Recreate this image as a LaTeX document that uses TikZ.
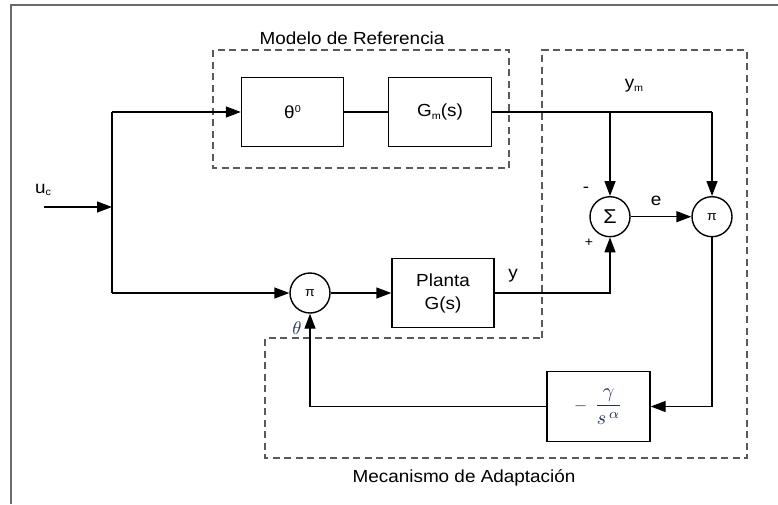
\documentclass[tikz,border=0pt]{standalone}
\usepackage{fontspec}
\setmainfont{Liberation Sans}[FakeStretch=1.08]
\usetikzlibrary{arrows.meta}
\definecolor{dashgray}{HTML}{5A5A5A}
\definecolor{framegray}{HTML}{6A6A6A}
\definecolor{mathnavy}{HTML}{233256}
\newcommand{\lbl}{\fontsize{17.5}{24}\selectfont}
\newcommand{\subs}[1]{\raisebox{-2.5pt}{\fontsize{10}{10}\selectfont #1}}
\tikzset{
  blk/.style={draw=black, line width=1.4pt, rectangle, inner sep=0pt, fill=white},
  sumc/.style={draw=black, line width=1.4pt, circle, minimum size=40pt, inner sep=0pt, fill=white},
  wire/.style={line width=1.4pt, draw=black},
  arr/.style={wire, -{Triangle[length=15pt,width=11pt]}},
  region/.style={draw=dashgray, line width=1.2pt, dash pattern=on 7pt off 4.5pt},
  txt/.style={inner sep=0pt, font=\lbl}
}
\begin{document}
\begin{tikzpicture}[x=1pt,y=-1pt]
\useasboundingbox (0,0) rectangle (778,504);
% frame
\draw[framegray, line width=1.5pt] (11,504) -- (11,5) -- (778,5);
% dashed regions
\draw[region] (213,50) rectangle (509,168);
\draw[region] (542,338) -- (542,50) -- (747,50) -- (747,458) -- (265,458) -- (265,338) -- cycle;
\node[txt] (tRef) at (352,38) {Modelo de Referencia};
\node[txt] (tAd) at (464,478) {Mecanismo de Adaptación};
% blocks
\node[blk, font=\lbl, minimum width=102pt, minimum height=69pt] (theta) at (292.5,112) {θ\raisebox{6pt}{\fontsize{10}{10}\selectfont 0}};
\node[blk, font=\lbl, minimum width=103pt, minimum height=69pt] (gm) at (440,112) {G\subs{m}(s)};
\node[blk, font=\lbl, minimum width=102pt, minimum height=69pt, align=center] (planta) at (443,293) {Planta\\[-1pt]G(s)};
\node[blk, minimum width=103pt, minimum height=70pt, text=mathnavy] (gam) at (598.5,406.5) {\raisebox{0.5pt}{\scalebox{1.7}{$-$}}\hspace{7pt}\scalebox{2.0}{$\displaystyle\frac{\,\gamma\,}{s^{\,\alpha}}$}};
\node[sumc, font=\fontsize{20}{20}\selectfont] (sum) at (610,216.7) {Σ};
\node[sumc, font=\fontsize{13}{13}\selectfont] (pi2) at (712,216.7) {π};
\node[sumc, font=\fontsize{13}{13}\selectfont] (pi1) at (310,293) {π};
% coordinates
\coordinate (in) at (44,207);
\coordinate (jin) at (112,207);
\coordinate (jtop) at (112,112);
\coordinate (jbot) at (112,293);
\coordinate (bym) at (610,112);
\coordinate (cym) at (712,112);
% wires
\draw[arr] (in) -- (jin);
\draw[wire] (jtop) -- (jbot);
\draw[arr] (jtop) -- (theta.west);
\draw[arr] (jbot) -- (pi1.west);
\draw[wire] (theta.east) -- (gm.west);
\draw[wire] (gm.east) -- (cym);
\draw[arr] (bym) -- (sum.north);
\draw[arr] (cym) -- (pi2.north);
\draw[arr] (sum.east) -- (pi2.west);
\draw[arr] (pi1.east) -- (planta.west);
\draw[arr] (planta.east) -| (sum.south);
\draw[arr] (pi2.south) |- (gam.east);
\draw[arr] (gam.west) -| (pi1.south);
% labels
\node[txt] (luc) at (43,190) {u\subs{c}};
\node[txt] (lym) at (634,86) {y\subs{m}};
\node[txt] (le) at (656,201) {e};
\node[txt] (ly) at (513,276) {y};
\node[txt] (lminus) at (586,190) {-};
\node[txt, font=\fontsize{13}{13}\selectfont] (lplus) at (589,243) {+};
\node[inner sep=0pt, text=mathnavy] (lth) at (297,328) {\scalebox{1.85}{$\theta$}};
\end{tikzpicture}
\end{document}
